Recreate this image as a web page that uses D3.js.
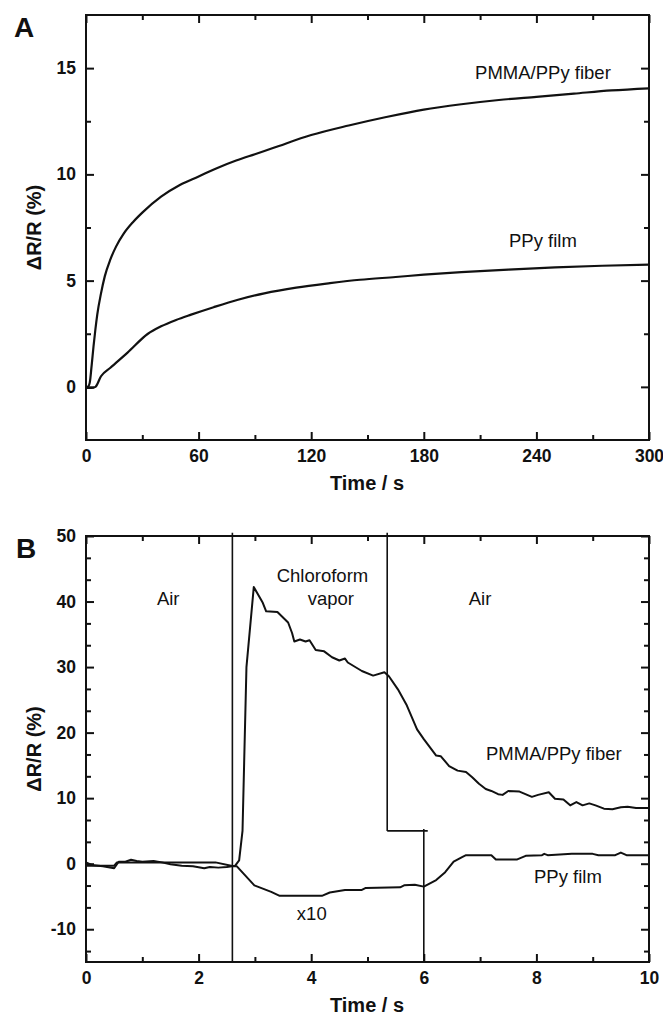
<!DOCTYPE html>
<html>
<head>
<meta charset="utf-8">
<script src="https://cdn.jsdelivr.net/npm/d3@7"></script>
<style>
    body { margin: 0; background: #fff; }
    svg { display: block; font-family: "Liberation Sans", Arial, sans-serif; }
    .tick text { font-weight: bold; font-size: 17.5px; fill: #111; }
    .axis_title { font-weight: bold; font-size: 20px; fill: #111; }
    .panel_label { font-weight: bold; font-size: 28px; fill: #111; }
    .note { font-size: 18.5px; fill: #111; text-anchor: middle; }
</style>
</head>
<body>
<div id="Chart_1"></div>
<script>
// panel A: long exposure, time in s, dR/R in %
let a_fiber_t = [0, 1, 2, 3, 4, 5, 6, 8, 10, 13, 16, 20, 25, 30, 40, 50, 60, 70, 80, 90, 100, 120, 140, 160, 180, 200, 220, 240, 260, 280, 300];
let a_fiber_v = [0, 0, 0.2, 1.0, 1.9, 2.7, 3.4, 4.4, 5.2, 6.0, 6.6, 7.2, 7.75, 8.2, 8.95, 9.5, 9.9, 10.3, 10.65, 10.95, 11.25, 11.85, 12.3, 12.7, 13.05, 13.3, 13.5, 13.65, 13.8, 13.95, 14.05];
let a_film_t = [0, 3, 5, 8, 13, 22, 33, 40, 48, 56, 68, 81, 95, 112, 130, 146, 165, 180, 200, 225, 250, 275, 300];
let a_film_v = [-0.05, -0.05, 0, 0.5, 0.9, 1.6, 2.5, 2.85, 3.15, 3.4, 3.75, 4.1, 4.4, 4.67, 4.88, 5.04, 5.17, 5.28, 5.4, 5.52, 5.62, 5.7, 5.75];
let a_x_ticks = [0, 60, 120, 180, 240, 300];
let a_x_minor = [30, 90, 150, 210, 270];
let a_y_ticks = [0, 5, 10, 15];
let a_y_minor = [2.5, 7.5, 12.5];

// panel B: chloroform pulse, time in s
let b_fiber_t = [0, 0.1, 0.3, 0.5, 0.58, 0.7, 0.8, 0.9, 1.0, 1.2, 1.35, 1.5, 1.7, 1.9, 2.1, 2.2, 2.35, 2.5, 2.65, 2.72, 2.78, 2.85, 2.98,
    3.14, 3.2, 3.4, 3.59, 3.66, 3.7, 3.8, 3.9, 3.97, 4.08, 4.23, 4.37, 4.5, 4.6, 4.65, 4.9, 5.1, 5.3, 5.38, 5.54, 5.69, 5.88, 6.0,
    6.22, 6.3, 6.45, 6.6, 6.75, 6.86, 6.98, 7.1, 7.2, 7.32, 7.4, 7.5, 7.7, 7.92, 8.03, 8.22, 8.33, 8.48, 8.6, 8.71, 8.82, 8.94,
    9.05, 9.2, 9.35, 9.5, 9.62, 9.77, 10.0];
let b_fiber_v = [0.2, -0.2, -0.4, -0.7, 0.3, 0.3, 0.6, 0.4, 0.3, 0.4, 0.2, -0.1, -0.3, -0.4, -0.7, -0.5, -0.6, -0.5, -0.3, 0.5, 5, 30, 42.2,
    39.8, 38.5, 38.4, 36.8, 35.2, 33.9, 34.2, 33.9, 34.1, 32.6, 32.4, 31.5, 31.0, 31.3, 30.7, 29.4, 28.7, 29.2, 28.6, 26.6, 24.3, 20.5, 19,
    16.5, 16.4, 14.9, 14.2, 14.0, 13.2, 12.2, 11.4, 11.1, 10.6, 10.5, 11.1, 11.0, 10.2, 10.5, 10.9, 9.9, 9.8, 8.9, 9.4, 8.9, 9.2,
    8.9, 8.4, 8.3, 8.6, 8.7, 8.5, 8.5];
let b_film_t = [0, 0.5, 0.55, 2.3, 2.62, 2.68, 2.99, 3.29, 3.44, 4.19, 4.33, 4.6, 4.9, 4.97, 5.58, 5.65, 5.84, 6.0, 6.22, 6.38, 6.53, 6.68, 6.75,
    7.2, 7.28, 7.66, 7.81, 8.1, 8.14, 8.2, 8.63, 9.0, 9.1, 9.4, 9.5, 9.6, 10.0];
let b_film_v = [-0.3, -0.3, 0.2, 0.2, -0.4, -0.4, -3.3, -4.3, -4.9, -4.9, -4.4, -4.0, -4.0, -3.7, -3.6, -3.3, -3.2, -3.5, -2.5, -1.3, 0.3, 1.0, 1.3,
    1.3, 0.65, 0.65, 1.2, 1.3, 1.5, 1.3, 1.5, 1.5, 1.3, 1.3, 1.7, 1.3, 1.3];
// vapor switched on at 2.6 s and off around 5.35-6.0 s (drawn as a step)
let b_switch_t = [2.6, 5.35, 6.0];
let b_switch_level = 5;
let b_x_ticks = [0, 2, 4, 6, 8, 10];
let b_x_minor = [1, 3, 5, 7, 9];
let b_y_ticks = [-10, 0, 10, 20, 30, 40, 50];
let b_y_minor = [-13.333, -6.667, -3.333, 3.333, 6.667, 13.333, 16.667, 23.333, 26.667, 33.333, 36.667, 43.333, 46.667];

let svg = d3.select("#Chart_1")
    .append("svg")
    .attr("width", 663)
    .attr("height", 1017);

function zip(ts, vs) {
    return ts.map((t, i) => [t, vs[i]]);
}

function draw_panel(p) {
    let x = d3.scaleLinear().domain(p.xdom).range([86, 649]);
    let y = d3.scaleLinear().domain(p.ydom).range([p.bottom, p.top]);
    let g = svg.append("g");

    // inward ticks on all four sides, labels only bottom and left
    let sides = [
        [() => d3.axisBottom(x), "translate(0," + p.bottom + ")", p.xt, p.xm, true],
        [() => d3.axisTop(x), "translate(0," + p.top + ")", p.xt, p.xm, false],
        [() => d3.axisLeft(y), "translate(86,0)", p.yt, p.ym, true],
        [() => d3.axisRight(y), "translate(649,0)", p.yt, p.ym, false]
    ];
    sides.forEach(s => {
        let major = s[0]().tickValues(s[2]).tickSize(-8)
            .tickPadding(s[4] ? 10 : 0)
            .tickFormat(s[4] ? (d => String(d)) : "");
        g.append("g").attr("transform", s[1]).call(major);
        g.append("g").attr("transform", s[1])
            .call(s[0]().tickValues(s[3]).tickSize(-5).tickFormat(""));
    });
    g.selectAll(".domain").remove();
    g.selectAll(".tick line").attr("stroke", "#111").attr("stroke-width", 2);
    g.selectAll(".tick text").attr("font-family", null).attr("font-size", null);

    g.append("rect")
        .attr("x", 86).attr("y", p.top)
        .attr("width", 563).attr("height", p.bottom - p.top)
        .attr("fill", "none").attr("stroke", "#111").attr("stroke-width", 2);

    let line = d3.line().x(d => x(d[0])).y(d => y(d[1])).curve(p.curve);
    p.series.forEach(s => {
        g.append("path")
            .datum(s)
            .attr("d", line)
            .attr("fill", "none")
            .attr("stroke", "#111")
            .attr("stroke-width", p.lw)
            .attr("stroke-linejoin", "round");
    });

    g.append("text").attr("class", "panel_label").text(p.name).attr("x", p.name_x).attr("y", p.name_y);
    g.append("text").attr("class", "axis_title").text("Time / s")
        .attr("x", 367).attr("y", p.bottom + 50).attr("text-anchor", "middle");
    g.append("text").attr("class", "axis_title").text("\u0394R/R (%)")
        .attr("transform", "translate(41," + ((p.top + p.bottom) / 2) + ") rotate(-90)")
        .attr("text-anchor", "middle");
    p.notes.forEach(n => {
        g.append("text").attr("class", "note").text(n[0]).attr("x", x(n[1])).attr("y", y(n[2]));
    });
    return {x: x, y: y, g: g};
}

draw_panel({
    name: "A", name_x: 14, name_y: 37,
    xdom: [0, 300], ydom: [-2.5, 17.5], top: 15, bottom: 440,
    xt: a_x_ticks, xm: a_x_minor, yt: a_y_ticks, ym: a_y_minor,
    curve: d3.curveMonotoneX, lw: 2.2,
    series: [zip(a_fiber_t, a_fiber_v), zip(a_film_t, a_film_v)],
    notes: [["PMMA/PPy fiber", 243.5, 14.5], ["PPy film", 243.5, 6.6]]
});

let pb = draw_panel({
    name: "B", name_x: 16, name_y: 558,
    xdom: [0, 10], ydom: [-15, 50], top: 536, bottom: 962,
    xt: b_x_ticks, xm: b_x_minor, yt: b_y_ticks, ym: b_y_minor,
    curve: d3.curveLinear, lw: 2,
    series: [zip(b_fiber_t, b_fiber_v), zip(b_film_t, b_film_v)],
    notes: [["Air", 1.46, 39.5], ["Chloroform", 4.2, 43], ["vapor", 4.35, 39.5], ["Air", 7.0, 39.5],
        ["PMMA/PPy fiber", 8.31, 15.8], ["PPy film", 8.56, -2.9], ["x10", 4.01, -8.6]]
});

// gas switching marks
let sw = [
    [[b_switch_t[0], 50.5], [b_switch_t[0], -15]],
    [[b_switch_t[1], 50.5], [b_switch_t[1], b_switch_level]],
    [[b_switch_t[1], b_switch_level], [b_switch_t[2] + 0.07, b_switch_level]],
    [[b_switch_t[2], b_switch_level + 0.3], [b_switch_t[2], -15]]
];
pb.g.selectAll(".switch")
    .data(sw)
    .enter()
    .append("line")
    .attr("x1", d => pb.x(d[0][0]))
    .attr("y1", d => pb.y(d[0][1]))
    .attr("x2", d => pb.x(d[1][0]))
    .attr("y2", d => pb.y(d[1][1]))
    .attr("stroke", "#111")
    .attr("stroke-width", 1.6);
</script>
</body>
</html>
